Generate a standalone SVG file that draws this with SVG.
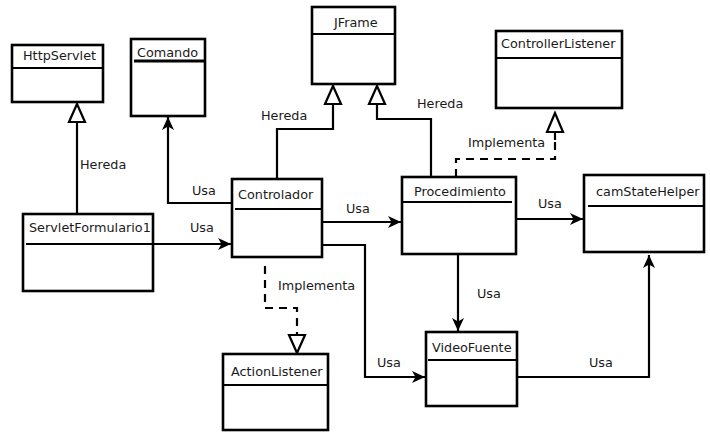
<svg xmlns="http://www.w3.org/2000/svg" width="710" height="432" viewBox="0 0 710 432">
<style>
.box{fill:#fff;stroke:#000;stroke-width:2.6}
.div{stroke:#000;stroke-width:2.2}
.t{font-family:"DejaVu Sans",sans-serif;font-size:12.8px;fill:#1a1a1a}
.ln{fill:none;stroke:#000;stroke-width:2.2}
.ds{fill:none;stroke:#000;stroke-width:2.2;stroke-dasharray:8,6}
.tri{fill:#fff;stroke:#000;stroke-width:2.2}
</style>
<defs>
<marker id="arr" markerUnits="userSpaceOnUse" markerWidth="14" markerHeight="12" refX="13" refY="6" orient="auto">
<path d="M0,0 L13,6 L0,12 L3.5,6 z" fill="#000"/>
</marker>
</defs>
<g id="connectors">
<path class="ln" d="M77,213 V122"/>
<path class="tri" d="M77,104 L69,122 L85,122 z"/>
<path class="ln" d="M232,203 H168 V117" marker-end="url(#arr)"/>
<path class="ln" d="M153,244 H231" marker-end="url(#arr)"/>
<path class="ln" d="M277,179 V129 H333 V104"/>
<path class="tri" d="M333,86 L325,104 L341,104 z"/>
<path class="ln" d="M431,177 V119 H377 V104"/>
<path class="tri" d="M377,86 L369,104 L385,104 z"/>
<path class="ds" d="M456,177 V159 H555 V140"/>
<path class="ln" d="M555,140 V132"/>
<path class="tri" d="M555,113 L547,132 L563,132 z"/>
<path class="ln" d="M322,222 H401" marker-end="url(#arr)"/>
<path class="ln" d="M516,219 H583" marker-end="url(#arr)"/>
<path class="ln" d="M458,254 V331" marker-end="url(#arr)"/>
<path class="ln" d="M322,245 H365 V377 H425" marker-end="url(#arr)"/>
<path class="ln" d="M517,377 H649 V255" marker-end="url(#arr)"/>
<path class="ds" d="M265,266 V308 H297 V335"/>
<path class="tri" d="M297,353 L289,335 L305,335 z"/>
<text class="t" x="80" y="169">Hereda</text>
<text class="t" x="261" y="120">Hereda</text>
<text class="t" x="417" y="108">Hereda</text>
<text class="t" x="468" y="147">Implementa</text>
<text class="t" x="192" y="195">Usa</text>
<text class="t" x="190" y="232">Usa</text>
<text class="t" x="346" y="213">Usa</text>
<text class="t" x="538" y="208">Usa</text>
<text class="t" x="477" y="298">Usa</text>
<text class="t" x="589" y="367">Usa</text>
<text class="t" x="377" y="367">Usa</text>
<text class="t" x="278" y="290">Implementa</text>
</g>
<g id="HttpServlet">
<rect class="box" x="12" y="45" width="91" height="57"/>
<line class="div" x1="12" y1="68" x2="103" y2="68"/>
<text class="t" x="23" y="60">HttpServlet</text>
</g>
<g id="Comando">
<rect class="box" x="131" y="39" width="74" height="77"/>
<line class="div" x1="134" y1="61" x2="205" y2="61" style="stroke-width:3"/>
<text class="t" x="137" y="57">Comando</text>
</g>
<g id="JFrame">
<rect class="box" x="312" y="7" width="83" height="77"/>
<line class="div" x1="312" y1="34" x2="395" y2="34"/>
<text class="t" x="334" y="27">JFrame</text>
</g>
<g id="ControllerListener">
<rect class="box" x="496" y="31" width="126" height="77"/>
<line class="div" x1="496" y1="58" x2="622" y2="58"/>
<text class="t" x="501" y="48">ControllerListener</text>
</g>
<g id="ServletFormulario1">
<rect class="box" x="23" y="214" width="130" height="77"/>
<line class="div" x1="26" y1="244" x2="153" y2="244"/>
<text class="t" x="29" y="232">ServletFormulario1</text>
</g>
<g id="Controlador">
<rect class="box" x="232" y="179" width="90" height="78"/>
<line class="div" x1="235" y1="209" x2="322" y2="209"/>
<text class="t" x="238" y="199">Controlador</text>
</g>
<g id="Procedimiento">
<rect class="box" x="402" y="177" width="114" height="77"/>
<line class="div" x1="402" y1="202" x2="512" y2="202"/>
<text class="t" x="414" y="196">Procedimiento</text>
</g>
<g id="camStateHelper">
<rect class="box" x="584" y="175" width="120" height="77"/>
<line class="div" x1="588" y1="206" x2="704" y2="206"/>
<text class="t" x="596" y="196">camStateHelper</text>
</g>
<g id="VideoFuente">
<rect class="box" x="426" y="332" width="91" height="74"/>
<line class="div" x1="428" y1="360" x2="517" y2="360"/>
<text class="t" x="432" y="352">VideoFuente</text>
</g>
<g id="ActionListener">
<rect class="box" x="223" y="354" width="105" height="76"/>
<line class="div" x1="223" y1="385" x2="328" y2="385"/>
<text class="t" x="231" y="376">ActionListener</text>
</g>
</svg>
